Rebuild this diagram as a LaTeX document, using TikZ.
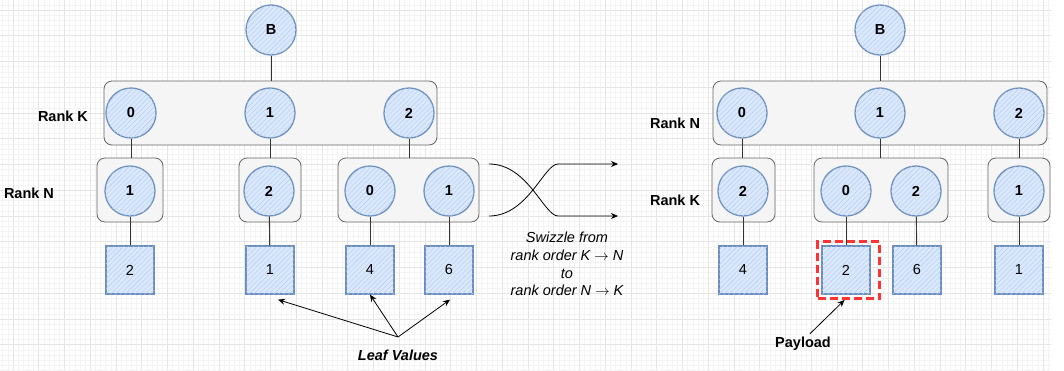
\documentclass[tikz,border=0pt]{standalone}
\usepackage{fontspec}
\setmainfont{Liberation Sans}
\usetikzlibrary{positioning,arrows.meta,patterns.meta}
\definecolor{circfill}{HTML}{DAE8FC}
\definecolor{circline}{HTML}{6C8EBF}
\definecolor{hatchblue}{HTML}{B4CBEE}
\definecolor{boxfill}{HTML}{F5F5F5}
\definecolor{boxline}{HTML}{666666}
\definecolor{payred}{HTML}{FF3333}
\definecolor{gridmin}{HTML}{F4F4F4}
\definecolor{gridmaj}{HTML}{E5E5E5}

\begin{document}
\begin{tikzpicture}[x=1pt,y=-1pt,font=\fontsize{14.5}{18}\selectfont,
    hatch/.style={postaction={pattern={Lines[angle=45,distance=3.5pt,line width=0.4pt]},pattern color=hatchblue}},
    rank/.style={circle,draw=circline,line width=1.3pt,fill=circfill,hatch,minimum size=50pt,inner sep=0pt,font=\fontsize{14.5}{18}\selectfont\bfseries},
    leaf/.style={rectangle,draw=circline,line width=1.3pt,fill=circfill,hatch,minimum size=48pt,inner sep=0pt},
    fiber/.style={rectangle,rounded corners=8pt,draw=boxline,fill=boxfill,line width=0.8pt,minimum height=64pt},
    lbl/.style={font=\fontsize{14.5}{18}\selectfont\bfseries},
    edge/.style={draw=black!80,line width=0.9pt},
    arr/.style={-{Stealth[length=7pt,width=6pt]},line width=0.8pt}]
\useasboundingbox (0,0) rectangle (1064,370);

% grid
\foreach \i in {0,...,203} \draw[gridmin,line width=0.6pt] ({2.7+5.15*\i},0) -- ++(0,370);
\foreach \j in {0,...,71} \draw[gridmin,line width=0.6pt] (0,{4.85+5.15*\j}) -- ++(1051,0);
\foreach \i in {0,...,40} \draw[gridmaj,line width=0.8pt] ({13+25.75*\i},0) -- ++(0,370);
\foreach \j in {0,...,13} \draw[gridmaj,line width=0.8pt] (0,{10+25.75*\j}) -- ++(1051,0);

% K -> N
\node[fiber,minimum width=333pt] (lkbox) at (270.5,113) {};
\node[fiber,minimum width=66pt] (lnbox0) at (130,190) {};
\node[fiber,minimum width=62pt] (lnbox1) at (270,190) {};
\node[fiber,minimum width=141pt] (lnbox2) at (408.5,190) {};
\node[rank] (lb) at (271,30) {B};
\node[rank] (lk0) at (131,113) {0};
\node[rank] (lk1) at (270,113) {1};
\node[rank] (lk2) at (409,113) {2};
\node[rank] (ln0) at (130,191) {1};
\node[rank] (ln1) at (269,191) {2};
\node[rank] (ln2) at (370,191) {0};
\node[rank] (ln3) at (449,191) {1};
\node[leaf] (lv0) at (130,270) {2};
\node[leaf] (lv1) at (270,270) {1};
\node[leaf] (lv2) at (370,270) {4};
\node[leaf] (lv3) at (449,270) {6};
\node[lbl] (lrk) at (63,116) {Rank K};
\node[lbl] (lrn) at (29,193) {Rank N};

\draw[edge] (lb) -- (lb |- lkbox.north);
\draw[edge] (lk0) -- (lk0 |- lnbox0.north);
\draw[edge] (lk1) -- (lk1 |- lnbox1.north);
\draw[edge] (lk2) -- (lk2 |- lnbox2.north);
\draw[edge] (ln0) -- (lv0);
\draw[edge] (ln1) -- (lv1);
\draw[edge] (ln2) -- (lv2);
\draw[edge] (ln3) -- (lv3);

\node[font=\fontsize{14.5}{18}\selectfont\bfseries\itshape] (leafval) at (398,355) {Leaf Values};
\coordinate (lvfork) at (398,337);
\draw[arr] (lvfork) -- ([shift={(8,5)}]lv1.south);
\draw[arr] (lvfork) -- (lv2.south);
\draw[arr] (lvfork) -- ([shift={(1,5)}]lv3.south);

% swizzle
\coordinate (swa) at (489,164);
\coordinate (swb) at (489,216);
\coordinate (swc) at (558,216);
\coordinate (swd) at (558,164);
\coordinate (swe) at (618,216);
\coordinate (swf) at (618,164);
\draw[arr] (swa) .. controls (528,164) and (544,216) .. (swc) -- (swe);
\draw[arr] (swb) .. controls (528,216) and (544,164) .. (swd) -- (swf);
\node[align=center,font=\fontsize{14.5}{17.7}\selectfont\itshape] (swz) at (567,264)
  {Swizzle from\\rank order K $\rightarrow$ N\\to\\rank order N $\rightarrow$ K};

% N -> K
\node[fiber,minimum width=334pt] (rnbox) at (880,113) {};
\node[fiber,minimum width=63pt] (rkbox0) at (743.5,190) {};
\node[fiber,minimum width=134pt] (rkbox1) at (881,190) {};
\node[fiber,minimum width=62pt] (rkbox2) at (1019,190) {};
\node[rank] (rb) at (880,30) {B};
\node[rank] (rn0) at (742,113) {0};
\node[rank] (rn1) at (880,113) {1};
\node[rank] (rn2) at (1019,113) {2};
\node[rank] (rk0) at (743,191) {2};
\node[rank] (rk1) at (846,191) {0};
\node[rank] (rk2) at (916,191) {2};
\node[rank] (rk3) at (1019,191) {1};
\node[leaf] (rv0) at (743,270) {4};
\node[leaf] (rv1) at (846,270) {2};
\node[leaf] (rv2) at (917,270) {6};
\node[leaf] (rv3) at (1019,270) {1};
\node[lbl] (rrn) at (675,123) {Rank N};
\node[lbl] (rrk) at (675,200) {Rank K};

\draw[edge] (rb) -- (rb |- rnbox.north);
\draw[edge] (rn0) -- (rn0 |- rkbox0.north);
\draw[edge] (rn1) -- (rn1 |- rkbox1.north);
\draw[edge] (rn2) -- (rn2 |- rkbox2.north);
\draw[edge] (rk0) -- (rv0);
\draw[edge] (rk1) -- (rv1);
\draw[edge] (rk2) -- (rv2);
\draw[edge] (rk3) -- (rv3);

\node[draw=payred,line width=3pt,dash pattern=on 8pt off 4pt,minimum width=62pt,minimum height=57pt] (pay) at (848.5,270) {};
\node[lbl] (paylbl) at (803,344) {Payload};
\draw[arr] ([xshift=7pt]paylbl.north) -- ([xshift=-4pt]pay.south);

\end{tikzpicture}
\end{document}
